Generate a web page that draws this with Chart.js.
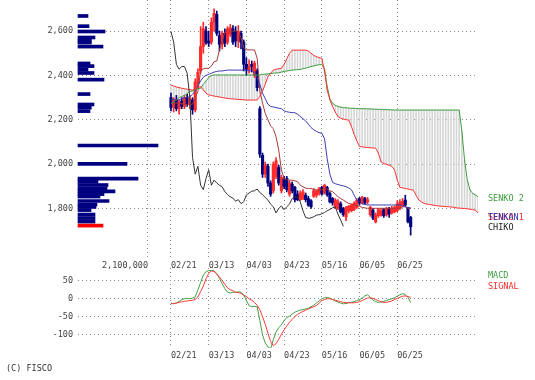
<!DOCTYPE html>
<html><head><meta charset="utf-8">
<script src="https://cdn.jsdelivr.net/npm/chart.js@4"></script>
<style>
body{margin:0;background:#fff;width:535px;height:380px;overflow:hidden;position:relative;}
canvas{position:absolute;left:0;}
.lbl{position:absolute;font:8.5px 'DejaVu Sans Mono',monospace;line-height:10px;white-space:pre;}
</style></head><body>
<canvas id="main" width="535" height="284" style="top:-12px"></canvas>
<canvas id="vol" width="535" height="284" style="top:-12px"></canvas>
<canvas id="macdc" width="535" height="106" style="top:256px"></canvas>
<div class="lbl" style="left:488px;top:193px;color:#3c9c3c">SENKO 2</div>
<div class="lbl" style="left:488px;top:212px;color:#ff2a2a">SENKO 1</div>
<div class="lbl" style="left:488px;top:212px;color:#3030b0">TENKAN</div>
<div class="lbl" style="left:488px;top:222px;color:#222">CHIKO</div>
<div class="lbl" style="left:488px;top:270px;color:#3c9c3c">MACD</div>
<div class="lbl" style="left:488px;top:281px;color:#ff2a2a">SIGNAL</div>
<div class="lbl" style="left:6px;top:363px;color:#333">(C) FISCO</div>
<script>
const dateLabels = ['02/21','03/13','04/03','04/23','05/16','06/05','06/25'];
const dateIdx = [0,14,28,42,56,70,84];
const priceTicks = [1800,2000,2200,2400,2600];
const macdTicks = [-100,-50,0,50];

const open = [2300,2255,2290,2250,2285,2260,2300,2270,2290,2245,
 2365,2420,2530,2600,2555,2550,2640,2675,2580,2540,
 2590,2550,2585,2610,2600,2555,2590,2550,2450,2425,
 2450,2400,2420,2250,2040,1955,1990,1915,1880,1945,
 1985,1880,1930,1935,1865,1910,1895,1865,1840,1845,
 1860,1845,1835,1855,1860,1870,1895,1872,1895,1868,
 1845,1805,1800,1822,1800,1762,1790,1790,1795,1806,
 1845,1824,1845,1830,1772,1793,1740,1768,1770,1795,
 1771,1800,1780,1785,1790,1800,1812,1838,1800,1760];
const high = [2320,2300,2310,2290,2300,2310,2315,2310,2300,2385,
 2430,2620,2640,2620,2600,2660,2700,2690,2600,2600,
 2610,2620,2630,2625,2620,2625,2600,2560,2480,2470,
 2465,2465,2430,2260,2050,2010,2000,1925,2010,2030,
 1995,1950,1945,1945,1925,1920,1900,1880,1880,1885,
 1870,1855,1840,1890,1885,1895,1900,1910,1900,1875,
 1850,1845,1840,1830,1805,1810,1815,1820,1830,1845,
 1850,1855,1850,1850,1810,1800,1780,1800,1800,1800,
 1805,1805,1810,1812,1835,1840,1845,1860,1805,1765];
const low = [2240,2235,2240,2225,2250,2250,2260,2250,2225,2235,
 2340,2410,2500,2540,2530,2540,2600,2580,2510,2520,
 2530,2540,2575,2540,2530,2525,2520,2420,2400,2410,
 2415,2390,2330,2030,1940,1940,1900,1855,1870,1935,
 1905,1870,1890,1875,1855,1870,1830,1835,1835,1840,
 1830,1810,1800,1850,1850,1860,1860,1865,1855,1825,
 1815,1800,1795,1780,1765,1745,1780,1785,1790,1800,
 1815,1820,1820,1820,1765,1750,1735,1760,1765,1760,
 1765,1760,1775,1780,1785,1795,1808,1810,1735,1680];
const close = [2255,2290,2250,2280,2260,2300,2270,2295,2245,2370,
 2415,2530,2610,2550,2545,2640,2680,2590,2540,2590,
 2545,2610,2615,2550,2555,2598,2550,2450,2428,2440,
 2440,2455,2345,2045,1955,1995,1915,1865,2000,2015,
 1915,1940,1900,1885,1915,1880,1840,1840,1870,1875,
 1840,1815,1808,1880,1878,1890,1865,1905,1862,1830,
 1825,1838,1830,1785,1772,1805,1810,1815,1824,1838,
 1825,1851,1825,1840,1805,1757,1771,1795,1790,1768,
 1800,1775,1802,1805,1820,1828,1832,1816,1740,1718];

const tenkan = [2275,2275,2275,2275,2272,2270,2270,2270,2270,2300,
 2328,2420,2430,2432,2432,2442,2462,2465,2515,2555,
 2595,2600,2600,2600,2600,2598,2570,2525,2515,2515,
 2515,2515,2478,2330,2275,2229,2200,2172,2160,2124,
 2064,1974,1936,1930,1928,1928,1925,1921,1905,1898,
 1892,1890,1890,1886,1883,1883,1885,1890,1888,1880,
 1876,1865,1853,1845,1838,1830,1823,1820,1816,1813,
 1810,1805,1803,1801,1801,1801,1801,1801,1801,1801,
 1801,1801,1801,1801,1801,1801,1808,1808,1801,1801];
const kijun = [2290,2290,2290,2290,2295,2300,2300,2305,2315,2330,
 2355,2375,2392,2400,2405,2410,2415,2418,2420,2420,
 2422,2424,2424,2424,2424,2424,2424,2424,2422,2421,
 2420,2412,2390,2360,2320,2295,2270,2260,2258,2255,
 2252,2250,2240,2236,2234,2232,2232,2225,2215,2205,
 2195,2180,2165,2155,2148,2142,2139,2115,2025,1955,
 1918,1912,1908,1905,1902,1898,1893,1885,1860,1838,
 1830,1822,1818,1816,1816,1816,1816,1816,1816,1816,
 1816,1816,1816,1816,1816,1816,1812,1808,1805,1803];
const senko1 = [2357,2352,2348,2345,2342,2340,2338,2336,2334,2340,
 2345,2349,2335,2320,2312,2310,2307,2305,2303,2300,
 2298,2297,2295,2294,2293,2292,2291,2290,2289,2289,
 2289,2289,2290,2305,2330,2360,2394,2410,2424,2428,
 2430,2432,2450,2475,2500,2514,2514,2514,2514,2514,
 2514,2510,2500,2490,2485,2480,2477,2420,2334,2290,
 2260,2235,2214,2207,2203,2200,2199,2170,2135,2105,
 2080,2078,2076,2075,2074,2073,2072,2050,2010,2002,
 2000,1995,1990,1975,1930,1895,1893,1890,1888,1885,
 1883,1860,1838,1830,1823,1820,1818,1816,1814,1812,
 1811,1810,1809,1808,1807,1806,1803,1802,1801,1800,
 1799,1797,1795,1793,1780];
const senko2 = [2274,2280,2290,2300,2305,2310,2318,2327,2330,2335,
 2340,2342,2360,2375,2390,2400,2402,2402,2402,2402,
 2402,2402,2402,2402,2402,2402,2402,2402,2402,2402,
 2402,2402,2402,2402,2405,2406,2407,2408,2410,2411,
 2412,2415,2418,2420,2422,2424,2425,2426,2427,2430,
 2433,2436,2440,2443,2446,2448,2449,2430,2350,2295,
 2275,2265,2260,2257,2255,2254,2253,2252,2252,2251,
 2250,2250,2250,2249,2249,2248,2248,2247,2247,2246,
 2246,2245,2245,2244,2244,2244,2244,2244,2244,2244,
 2244,2244,2244,2244,2244,2244,2244,2244,2244,2244,
 2244,2244,2244,2244,2244,2244,2244,2244,2150,2020,
 1930,1885,1868,1862,1853];
const chiko = [2598,2550,2450,2428,2440,2440,2410,2300,2030,1955,
 1990,1905,1885,1935,1975,1905,1928,1915,1905,1898,
 1876,1863,1853,1847,1833,1840,1822,1831,1861,1870,
 1878,1880,1888,1872,1862,1850,1838,1820,1808,1780,
 1800,1812,1795,1808,1820,1845,1853,1850,1830,1790,
 1760,1756,1758,1763,1770,1772,1776,1782,1790,1796,
 1803,1808,1775,1748,1720];

const macd = [-12,-14,-12,-7,-3,0,1,0,2,5,
 25,45,65,75,78,78,77,70,56,42,
 28,18,16,18,18,19,18,10,-5,-19,
 -22,-21,-22,-60,-100,-122,-133,-138,-113,-92,
 -80,-72,-60,-52,-48,-42,-37,-34,-31,-30,
 -28,-26,-22,-18,-12,-6,0,3,3,2,
 -2,-6,-9,-12,-14,-13,-11,-10,-8,-5,
 -2,2,8,11,4,-4,-8,-10,-9,-7,
 -5,-2,0,3,7,11,14,12,4,-11];
const signal = [-14,-13,-12,-10,-9,-7,-6,-5,-4,-2,
 5,20,35,55,70,77,75,68,60,50,
 40,30,25,22,18,17,15,10,6,0,
 -4,-10,-18,-30,-50,-70,-95,-118,-130,-124,
 -112,-98,-86,-75,-65,-57,-49,-43,-39,-35,
 -32,-28,-25,-22,-19,-12,-5,-2,0,0,
 -2,-4,-6,-8,-10,-11,-11,-11,-11,-10,
 -8,-5,-1,2,3,1,-2,-5,-8,-10,
 -10,-8,-6,-2,1,4,7,8,6,4];

const volPrice = [2668,2622,2598,2571,2557,2548,2530,2454,2442,2426,2411,2381,2316,2269,2255,2239,
 2084,2001,1935,1921,1906,1890,1877,1865,1854,1834,1818,1807,1793,1773,1757,1741,1723];
const volAmount = [300000,330000,810000,510000,400000,400000,750000,360000,480000,300000,480000,780000,360000,480000,400000,360000,
 2400000,1470000,1800000,600000,900000,870000,1110000,780000,660000,930000,570000,540000,390000,510000,510000,510000,750000];

/* ---------- layout constants (not data) ---------- */
const FONT = {family:"'DejaVu Sans Mono', monospace", size:8.5};
const TXT = '#444';
const GRID = '#8a8a8a';
const X_MIN = -34.53, X_MAX = 114.0, VOL_EDGE = -8.54;
const P_MIN = 1577, P_MAX = 2740;
const UP = '#ff2a2a', DOWN = '#00007f';

const pts = arr => arr.map((v,i)=>({x:i,y:v}));
const candleCol = open.map((o,i)=> close[i] >= o ? UP : DOWN);
const lineDs = (arr,color) => ({type:'line', data:pts(arr), borderColor:color, borderWidth:1,
  pointRadius:0, tension:0, fill:false, order:1});
const common = {responsive:false, animation:false, devicePixelRatio:1,
  plugins:{legend:{display:false}, tooltip:{enabled:false}}, events:[]};

new Chart(document.getElementById('main'), {
  type:'bar',
  data:{datasets:[
    lineDs(chiko,'#333333'),
    lineDs(senko1,'#ff3030'),
    lineDs(senko2,'#3c9c3c'),
    lineDs(kijun,'#3a3ab0'),
    lineDs(tenkan,'#a83838'),
    {type:'bar', data:open.map((o,i)=>({x:i,y:[o,close[i]]})), backgroundColor:candleCol,
      barThickness:2.5, grouped:false, order:2},
    {type:'bar', data:low.map((l,i)=>({x:i,y:[l,high[i]]})), backgroundColor:candleCol,
      barThickness:1, grouped:false, order:3},
    {type:'bar', data:senko1.map((v,i)=>({x:i,y:[Math.min(v,senko2[i]),Math.max(v,senko2[i])]})),
      backgroundColor:'#d6d6d6', barThickness:1, grouped:false, order:10}
  ]},
  options:Object.assign({}, common, {
    layout:{padding:{left:0,right:57,top:12,bottom:0}},
    scales:{
      x:{type:'linear', min:X_MIN, max:X_MAX, bounds:'data', offset:false,
        afterBuildTicks:s=>{s.ticks=[VOL_EDGE].concat(dateIdx).map(v=>({value:v}));},
        afterFit:s=>{s.height=14;},
        ticks:{autoSkip:false, maxRotation:0, minRotation:0, align:'start', padding:3, color:TXT, font:FONT,
          callback:v=>{const k=dateIdx.indexOf(v); return k<0?'':dateLabels[k];}},
        grid:{color:GRID, drawTicks:false, offset:false, lineWidth:1},
        border:{display:false, dash:[1,3]}},
      y:{type:'linear', min:P_MIN, max:P_MAX, bounds:'data',
        afterBuildTicks:s=>{s.ticks=priceTicks.map(v=>({value:v}));},
        afterFit:s=>{s.width=78;},
        ticks:{padding:5, color:TXT, font:FONT, callback:v=>v.toLocaleString('en-US')},
        grid:{color:GRID, drawTicks:false, lineWidth:1},
        border:{display:false, dash:[1,3]}}
    }
  })
});

new Chart(document.getElementById('vol'), {
  type:'bar',
  data:{datasets:[{data:volPrice.map((p,k)=>({x:volAmount[k], y:p})),
    backgroundColor:volPrice.map((p,k)=> k===volPrice.length-1 ? '#ff0000' : '#000080'),
    barThickness:3, grouped:false, clip:false}]},
  options:Object.assign({}, common, {
    indexAxis:'y',
    layout:{padding:{left:78,right:387,top:12,bottom:0}},
    scales:{
      y:{type:'linear', min:P_MIN, max:P_MAX, bounds:'data', display:false, offset:false},
      x:{type:'linear', min:0, max:2100000, bounds:'data',
        afterBuildTicks:s=>{s.ticks=[{value:2100000}];},
        afterFit:s=>{s.height=14;},
        ticks:{autoSkip:false, maxRotation:0, align:'end', padding:3, color:TXT, font:FONT,
          callback:v=>v.toLocaleString('en-US')},
        grid:{display:false, drawTicks:false}, border:{display:false}}
    }
  })
});

new Chart(document.getElementById('macdc'), {
  type:'line',
  data:{datasets:[
    {data:pts(signal), borderColor:'#ff3a3a', borderWidth:1, pointRadius:0, tension:0},
    {data:pts(macd), borderColor:'#40a040', borderWidth:1, pointRadius:0, tension:0}
  ]},
  options:Object.assign({}, common, {
    layout:{padding:{left:0,right:57,top:12,bottom:0}},
    scales:{
      x:{type:'linear', min:X_MIN, max:X_MAX, bounds:'data', offset:false,
        afterBuildTicks:s=>{s.ticks=dateIdx.map(v=>({value:v}));},
        afterFit:s=>{s.height=14;},
        ticks:{autoSkip:false, maxRotation:0, minRotation:0, align:'start', padding:3, color:TXT, font:FONT,
          callback:v=>{const k=dateIdx.indexOf(v); return k<0?'':dateLabels[k];}},
        grid:{color:GRID, drawTicks:false, lineWidth:1},
        border:{display:false, dash:[1,3]}},
      y:{type:'linear', min:-136, max:85, bounds:'data',
        afterBuildTicks:s=>{s.ticks=macdTicks.map(v=>({value:v}));},
        afterFit:s=>{s.width=78;},
        ticks:{padding:5, color:TXT, font:FONT, callback:v=>String(v)},
        grid:{color:GRID, drawTicks:false, lineWidth:1},
        border:{display:false, dash:[1,3]}}
    }
  })
});
</script>
</body></html>
